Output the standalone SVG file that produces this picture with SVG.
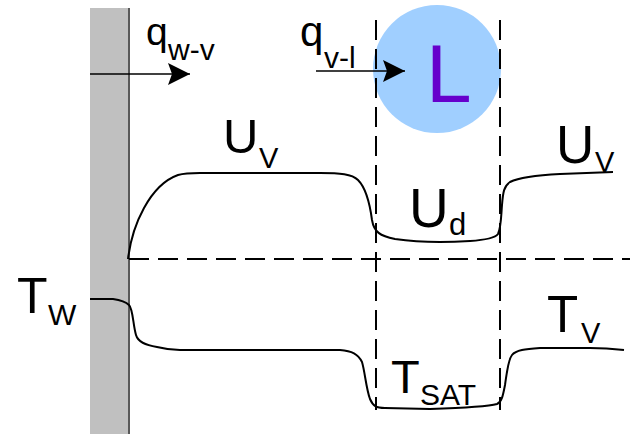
<svg xmlns="http://www.w3.org/2000/svg" width="637" height="434" viewBox="0 0 637 434">
<style>
.t{font-family:"Liberation Sans",Arial,sans-serif;fill:#000}
.curve{fill:none;stroke:#000;stroke-width:2}
.dash{fill:none;stroke:#000;stroke-width:2;stroke-dasharray:20 9}
.arr{fill:none;stroke:#000;stroke-width:1.5}
</style>
<defs>
<marker id="ah" markerUnits="userSpaceOnUse" markerWidth="24" markerHeight="24" refX="22" refY="11" orient="auto">
<path d="M0,0 L22,11 L0,22 L4,11 Z" fill="#000"/>
</marker>
</defs>
<rect width="637" height="434" fill="#fff"/>
<g id="wall">
<rect x="90" y="8" width="38" height="426" fill="#c0c0c0"/>
<line x1="129" y1="8" x2="129" y2="434" stroke="#222" stroke-width="1.5"/>
</g>
<g id="droplet">
<circle cx="437" cy="69" r="64" fill="#a0cfff"/>
<text class="t" x="426" y="102" font-size="82" style="fill:#6600cc">L</text>
</g>
<g id="connectors">
<line class="dash" x1="376" y1="20" x2="376" y2="410"/>
<line class="dash" x1="500" y1="20" x2="500" y2="410"/>
<line class="dash" x1="129" y1="259" x2="630" y2="259"/>
<line class="arr" x1="90" y1="74" x2="190" y2="74" marker-end="url(#ah)"/>
<line class="arr" x1="316" y1="71" x2="405" y2="71" marker-end="url(#ah)"/>
<path id="U-curve" class="curve" d="M128,259 C132,225 150,185 178,175 C185,173 190,173 200,173 L320,173 C340,173 352,174 358,180 C366,188 370,205 372,220 C374,232 380,236 395,239 C415,242 440,243 470,241 C485,240 495,238 498,234 C501,228 501,218 502,205 C503,192 504,186 510,182 C520,177 540,175 560,174 L613,172"/>
<path id="T-curve" class="curve" d="M90,299 L113,299 C120,300 126,302 129,305 C133,309 133,325 136,335 C138,342 145,345 157,347 C165,349 172,350 180,350 L340,350 C352,351 358,354 362,362 C365,372 366,388 370,399 C373,406 376,408 385,408 L430,409 C460,408 490,406 497,404 C502,402 503,395 505,385 C507,372 508,360 512,355 C516,350 525,349 540,348 L590,348 C605,348 615,349 624,350"/>
</g>
<g id="labels">
<g id="q-wv"><text class="t" x="146" y="45" font-size="39">q</text><text class="t" x="168" y="60" font-size="30">w-v</text></g>
<g id="q-vl"><text class="t" x="300" y="46" font-size="42">q</text><text class="t" x="324" y="68" font-size="30">v-l</text></g>
<g id="Uv1"><text class="t" x="223" y="153" font-size="49">U</text><text class="t" x="259" y="168" font-size="29">V</text></g>
<g id="Uv2"><text class="t" x="556" y="163" font-size="53">U</text><text class="t" x="595" y="172" font-size="29">V</text></g>
<g id="Ud"><text class="t" x="409" y="227" font-size="55">U</text><text class="t" x="449" y="235" font-size="31">d</text></g>
<g id="Tw"><text class="t" x="17" y="313" font-size="50">T</text><text class="t" x="48" y="325" font-size="30">W</text></g>
<g id="Tsat"><text class="t" x="391" y="393" font-size="47">T</text><text class="t" x="420" y="405" font-size="30">SAT</text></g>
<g id="Tv"><text class="t" x="547" y="332" font-size="51">T</text><text class="t" x="581" y="343" font-size="29">V</text></g>
</g>
</svg>
